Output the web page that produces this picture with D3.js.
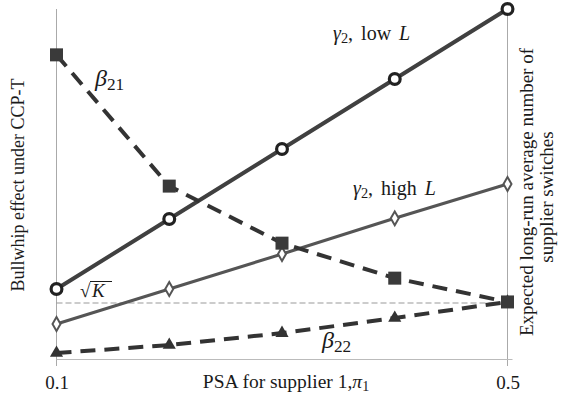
<!DOCTYPE html>
<html><head><meta charset="utf-8">
<script src="https://cdn.jsdelivr.net/npm/d3@7"></script>
<style>
body{margin:0;background:#fff;}
svg text{font-family:"Liberation Serif","Times New Roman","DejaVu Serif",serif !important;fill:#1a1a1a;}
</style></head>
<body><svg id="c" width="561" height="406" font-family="Liberation Serif, serif"></svg>
<script>
const psa = [0.1, 0.2, 0.3, 0.4, 0.5];
const gammaLowL = [2, 4, 6, 8, 10];
const gammaHighL = [1, 2, 3, 4.02, 5];
const beta21 = [8.69, 4.94, 3.31, 2.31, 1.63];
const beta22 = [0.17, 0.4, 0.74, 1.17, 1.63];
const sqrtK = 1.6;
const xTickLabels = ["0.1", "0.5"];

const svg = d3.select("#c");
const x = d3.scaleLinear().domain([0.1, 0.5]).range([56.5, 507.5]);
const y = d3.scaleLinear().domain([0, 10]).range([359, 9]);

// axes frame
const g = svg.append("g");
g.append("line").attr("x1", x(0.1)).attr("x2", x(0.1)).attr("y1", 9).attr("y2", 366).attr("stroke", "#aaa").attr("stroke-width", 1);
g.append("line").attr("x1", x(0.5)).attr("x2", x(0.5)).attr("y1", 9).attr("y2", 366).attr("stroke", "#aaa").attr("stroke-width", 1);
const xAxis = d3.axisBottom(x).tickValues([0.1, 0.5]).tickSize(0).tickFormat((d, i) => xTickLabels[i]);
const ax = svg.append("g").attr("transform", `translate(0,${y(0)+0.5})`).call(xAxis);
ax.attr("font-family", null);
ax.select(".domain").attr("stroke", "#bbb").attr("d", `M${x(0.1)},0H${x(0.5)+5}`);
ax.selectAll("text").attr("dy", 0).attr("y", 29).style("font-size", "19px").attr("fill", "#1a1a1a");

// sqrt K reference line
svg.append("line").attr("x1", x(0.1)).attr("x2", x(0.5)).attr("y1", y(sqrtK)).attr("y2", y(sqrtK))
  .attr("stroke", "#999").attr("stroke-width", 1.2).attr("stroke-dasharray", "6,3");

const line = d3.line().x((d, i) => x(psa[i])).y(d => y(d));
function drawLine(data, color, w, dash) {
  svg.append("path").attr("d", line(data)).attr("fill", "none").attr("stroke", color)
    .attr("stroke-width", w).attr("stroke-dasharray", dash || null).attr("stroke-linejoin", "round");
}
drawLine(beta22, "#333", 4, "15,9");
drawLine(gammaHighL, "#555", 3);
drawLine(gammaLowL, "#404040", 4);
drawLine(beta21, "#333", 4, "15,9");

// markers
svg.selectAll(".tri").data(beta22).enter().append("path")
  .attr("transform", (d, i) => `translate(${x(psa[i])},${y(d)})`)
  .attr("d", d3.symbol().type(d3.symbolTriangle).size(75)).attr("fill", "#333");
svg.selectAll(".dia").data(gammaHighL).enter().append("path")
  .attr("transform", (d, i) => `translate(${x(psa[i])},${y(d)})`)
  .attr("d", d3.symbol().type(d3.symbolDiamond).size(55)).attr("fill", "#fff").attr("stroke", "#555").attr("stroke-width", 2);
svg.selectAll(".cir").data(gammaLowL).enter().append("circle")
  .attr("cx", (d, i) => x(psa[i])).attr("cy", d => y(d)).attr("r", 5.4)
  .attr("fill", "#fff").attr("stroke", "#222").attr("stroke-width", 3.2);
svg.selectAll(".sq").data(beta21).enter().append("rect")
  .attr("x", (d, i) => x(psa[i]) - 6.5).attr("y", d => y(d) - 6.5).attr("width", 13).attr("height", 13)
  .attr("fill", "#3a3a3a");

// annotations
function mathLabel(px, py, size, parts, ws) {
  const t = svg.append("text").attr("x", px).attr("y", py).style("font-size", size + "px");
  if (ws) t.style("word-spacing", ws + "px");
  parts.forEach(p => {
    const s = t.append("tspan").text(p.t);
    if (p.i) s.style("font-style", "italic");
    if (p.sub) s.attr("baseline-shift", "-22%").style("font-size", (size * 0.72) + "px");
  });
  return t;
}
mathLabel(95, 86, 24, [{t: "β", i: 1}, {t: "21", sub: 1}]);
mathLabel(322, 348, 24, [{t: "β", i: 1}, {t: "22", sub: 1}]);
mathLabel(333, 40, 20, [{t: "γ", i: 1}, {t: "2", sub: 1}, {t: ", low "}, {t: "L", i: 1}], 3);
mathLabel(353, 195, 20, [{t: "γ", i: 1}, {t: "2", sub: 1}, {t: ", high "}, {t: "L", i: 1}], 3);
// sqrt K
svg.append("text").attr("x", 80).attr("y", 297).style("font-size", "19px").text("√");
svg.append("text").attr("x", 92).attr("y", 297).style("font-size", "19px").style("font-style", "italic").text("K");
svg.append("line").attr("x1", 90).attr("x2", 112).attr("y1", 281.5).attr("y2", 281.5).attr("stroke", "#1a1a1a").attr("stroke-width", 1);

// axis titles
svg.append("text").attr("transform", "translate(24,185) rotate(-90)").attr("text-anchor", "middle")
  .style("font-size", "18px").text("Bullwhip effect under CCP-T");
svg.append("text").attr("transform", "translate(533,192) rotate(-90)").attr("text-anchor", "middle")
  .style("font-size", "19px").text("Expected long-run average number of");
svg.append("text").attr("transform", "translate(553,197) rotate(-90)").attr("text-anchor", "middle")
  .style("font-size", "19px").text("supplier switches");
const xl = svg.append("text").attr("x", 286).attr("y", 388).attr("text-anchor", "middle").style("font-size", "19.5px");
xl.append("tspan").text("PSA for supplier 1,");
xl.append("tspan").style("font-style", "italic").text("π");
xl.append("tspan").attr("baseline-shift", "-22%").style("font-size", "14px").text("1");
</script></body></html>
